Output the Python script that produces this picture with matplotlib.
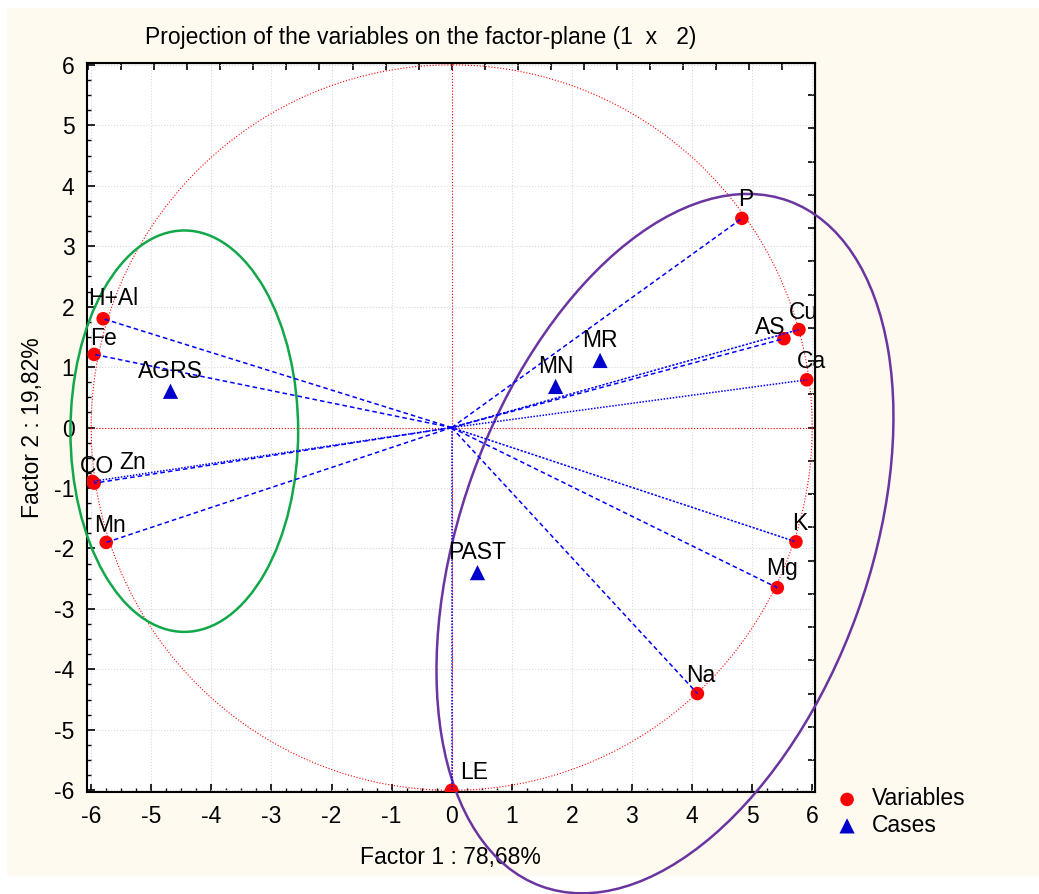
import numpy as np
import matplotlib
matplotlib.use("Agg")
import matplotlib.pyplot as plt
from matplotlib.patches import Ellipse, Rectangle
from matplotlib.ticker import MultipleLocator

plt.rcParams['font.family'] = ['Liberation Sans', 'DejaVu Sans']
plt.rcParams['axes.unicode_minus'] = False

# variables (loadings scaled to the circle)
var_names = ['P', 'Cu', 'AS', 'Ca', 'K', 'Mg', 'Na', 'LE', 'H+Al', 'Fe', 'CO', 'Zn', 'Mn']
var_x = [4.83, 5.78, 5.53, 5.91, 5.73, 5.42, 4.09, 0.0, -5.80, -5.95, -5.98, -5.95, -5.75]
var_y = [3.46, 1.62, 1.47, 0.79, -1.89, -2.65, -4.40, -6.0, 1.80, 1.21, -0.89, -0.92, -1.90]

# cases
case_names = ['AGRS', 'MN', 'MR', 'PAST']
case_x = [-4.68, 1.73, 2.47, 0.43]
case_y = [0.60, 0.68, 1.11, -2.40]

# label offsets in pixels
var_off = {'P': (4, 19), 'Cu': (4, 17), 'AS': (-14, 11), 'Ca': (5, 18), 'K': (4, 18),
           'Mg': (5, 19), 'Na': (3, 18), 'LE': (22, 18), 'H+Al': (10, 20), 'Fe': (9, 16),
           'CO': (5, 15), 'Zn': (38, 21), 'Mn': (4, 17)}
var_ls = {'P': (0, (3, 2)), 'Cu': (0, (1.5, 1)), 'AS': (0, (3, 2)), 'Ca': (0, (1, 1)),
          'K': (0, (1.5, 1)), 'Mg': (0, (3, 2)), 'Na': (0, (3, 2)), 'LE': (0, (1, 1)),
          'H+Al': (0, (3, 2)), 'Fe': (0, (3, 2)), 'CO': (0, (1, 1)), 'Zn': (0, (3, 2)),
          'Mn': (0, (3, 2))}

bg = '#fffaf0'
fs = 16.5
fig = plt.figure(figsize=(10.39, 8.94), dpi=100, facecolor='white')
fig.patches.append(Rectangle((0.0067, 0.0201), 1.0, 0.9709, transform=fig.transFigure,
                             facecolor=bg, edgecolor='none', zorder=-10))
ax = fig.add_axes([0.0837, 0.114, 0.7003, 0.8155])
ax.set_facecolor('white')
ax.set_xlim(-6.07, 6.04)
ax.set_ylim(-6.03, 6.03)

ax.grid(True, color='#d8d8d8', linestyle=':', linewidth=0.8)
ax.set_axisbelow(True)

# circle (radius 6) and axes through origin
t = np.linspace(0, 2 * np.pi, 400)
ax.plot(6 * np.cos(t), 6 * np.sin(t), color='red', linestyle=':', linewidth=0.8, zorder=2)
ax.axhline(0, color='red', linestyle=':', linewidth=0.8, zorder=2)
ax.axvline(0, color='red', linestyle=':', linewidth=0.8, zorder=2)

# markers
ax.scatter(var_x, var_y, s=95, color='#ff0000', zorder=4, label='Variables', edgecolors='none')
ax.scatter(case_x, case_y, s=120, color='#0000cc', marker='^', zorder=4, label='Cases',
           edgecolors='none')

# lines from origin
for n, x, y in zip(var_names, var_x, var_y):
    ax.plot([0, x], [0, y], color='#0000ff', linestyle=var_ls[n], linewidth=1.1, zorder=5)
    ax.annotate(n, (x, y), xytext=var_off[n], textcoords='offset pixels', ha='center',
                va='center', fontsize=fs, zorder=6, annotation_clip=False)

for n, x, y in zip(case_names, case_x, case_y):
    ax.annotate(n, (x, y), xytext=(0, 20), textcoords='offset pixels', ha='center',
                va='center', fontsize=fs, zorder=6)

# group ellipses
ax.add_patch(Ellipse((-4.45, -0.06), 3.79, 6.64, fill=False, edgecolor='#12a84a',
                     linewidth=1.8, zorder=3, clip_on=False))
ax.add_patch(Ellipse((3.55, -1.92), 6.8, 12.06, angle=-20, fill=False, edgecolor='#6a35a0',
                     linewidth=1.8, zorder=3, clip_on=False))

# ticks
ax.xaxis.set_major_locator(MultipleLocator(1))
ax.yaxis.set_major_locator(MultipleLocator(1))
ax.xaxis.set_minor_locator(MultipleLocator(0.25))
ax.yaxis.set_minor_locator(MultipleLocator(0.25))
ax.tick_params(which='major', direction='in', length=6, width=1.2, labelsize=fs, pad=9)
ax.tick_params(which='minor', direction='in', length=3, width=1)
for s in ax.spines.values():
    s.set_linewidth(1.5)

top = ax.secondary_xaxis('top')
top.xaxis.set_major_locator(MultipleLocator(0.55))
top.tick_params(direction='in', length=5, width=1.2, labeltop=False)
right = ax.secondary_yaxis('right')
right.yaxis.set_major_locator(MultipleLocator(0.55))
right.tick_params(direction='in', length=5, width=1.2, labelright=False)

ax.set_xlabel('Factor 1 : 78,68%', fontsize=fs, labelpad=13)
ax.set_ylabel('Factor 2 : 19,82%', fontsize=fs, labelpad=7)
fig.text(0.405, 0.958, 'Projection of the variables on the factor-plane (1  x   2)',
         ha='center', va='center', fontsize=fs)

fig.legend(loc='upper left', bbox_to_anchor=(0.791, 0.132), frameon=False, fontsize=fs,
           handletextpad=0.5, labelspacing=0.15, borderpad=0, handlelength=1.2)

fig.savefig('out.png', dpi=100, facecolor='white')
